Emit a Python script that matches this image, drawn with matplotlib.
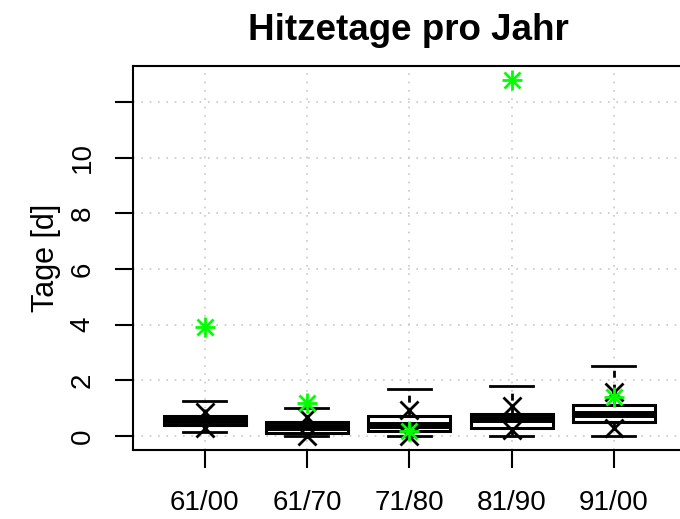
import numpy as np
import matplotlib
matplotlib.use("Agg")
import matplotlib.pyplot as plt

plt.rcParams['font.family'] = ['Liberation Sans', 'DejaVu Sans']

# Werte
perioden = ["61/00", "61/70", "71/80", "81/90", "91/00"]
whisk_lo = [0.14, 0.0, 0.0, 0.0, 0.0]
q1 = [0.39, 0.09, 0.18, 0.29, 0.49]
median = [0.55, 0.32, 0.37, 0.62, 0.79]
q3 = [0.71, 0.50, 0.72, 0.80, 1.11]
whisk_hi = [1.24, 1.0, 1.70, 1.80, 2.50]
kreuz_oben = [0.86, 0.68, 0.92, 1.08, 1.56]
kreuz_unten = [0.27, 0.0, 0.0, 0.20, 0.27]
stern = [3.9, 1.19, 0.18, 12.8, 1.40]
yticks = [0, 2, 4, 6, 8, 10, 12]
ylabels = ["0", "2", "4", "6", "8", "10", ""]

fig = plt.figure(figsize=(6.8, 5.19), dpi=100)
ax = fig.add_axes([133/680, 69/519, 552.6/680, 384.3/519])

pos = np.arange(1, len(perioden) + 1)
stats = []
for i in range(len(perioden)):
    stats.append(dict(med=median[i], q1=q1[i], q3=q3[i],
                      whislo=whisk_lo[i], whishi=whisk_hi[i], fliers=[]))

ax.bxp(stats, positions=pos, widths=0.8, capwidths=0.42, showfliers=False,
       patch_artist=True,
       boxprops=dict(facecolor='white', edgecolor='black', linewidth=2.2),
       medianprops=dict(color='black', linewidth=5, solid_capstyle='butt'),
       whiskerprops=dict(color='black', linewidth=2.0, linestyle=(0, (2.5, 2.5))),
       capprops=dict(color='black', linewidth=2.0), zorder=3)

# Kreuze
ax.plot(pos, kreuz_oben, 'x', color='black', ms=12.5, mew=2.0, zorder=4)
ax.plot(pos, kreuz_unten, 'x', color='black', ms=12.5, mew=2.0, zorder=4)

# gruene Sterne (pch 8)
ax.plot(pos, stern, '+', color='#00ff00', ms=15, mew=2.0, zorder=5)
ax.plot(pos, stern, 'x', color='#00ff00', ms=11, mew=2.0, zorder=5)

ax.set_xlim(0.3, 5.7)
ax.set_ylim(-0.512, 13.312)

ax.set_yticks(yticks)
ax.set_yticklabels(ylabels, rotation=90, va='center')
ax.set_xticks(pos)
ax.set_xticklabels(perioden)
ax.tick_params(axis='both', length=13, width=1.5, labelsize=20)
ax.tick_params(axis='y', pad=14)
ax.tick_params(axis='x', pad=16)

ax.grid(True, color='#c8c8c8', linestyle=(0, (1, 4)), linewidth=1.2, zorder=0)
ax.set_axisbelow(True)

for s in ax.spines.values():
    s.set_linewidth(1.5)

ax.set_ylabel("Tage [d]", fontsize=22, labelpad=6)
fig.text(408/680, 1 - 30/519, "Hitzetage pro Jahr", ha='center', va='center',
         fontsize=26.5, fontweight='bold')

fig.savefig("out.png", dpi=100)
